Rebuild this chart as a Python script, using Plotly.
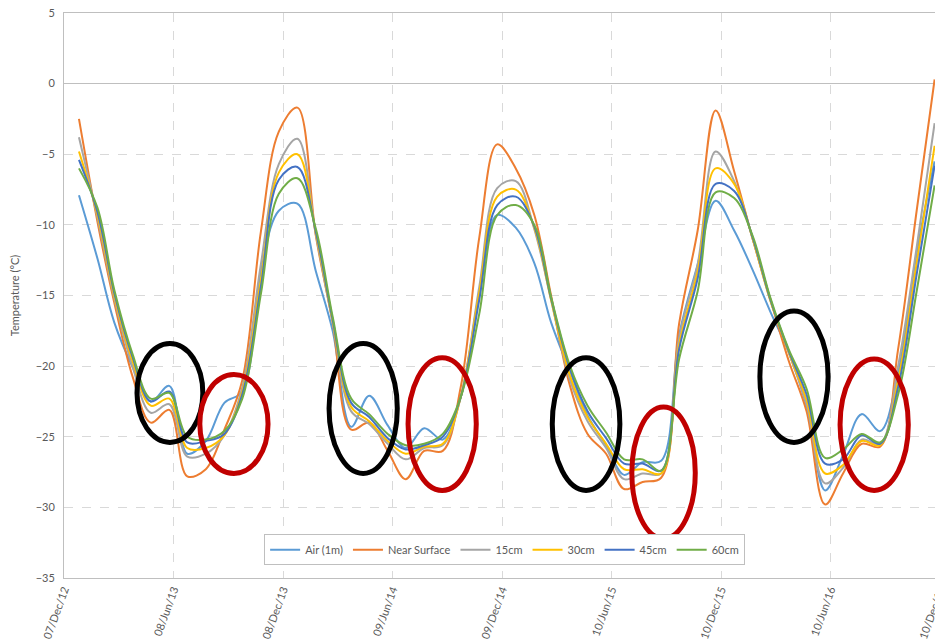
import pandas as pd
import plotly.graph_objects as go

# ---------------- data (monthly, Jan 2013 .. Dec 2016) ----------------
months = pd.date_range("2013-01-01", "2016-12-01", freq="MS").strftime("%Y-%m-%d").tolist()

air_1m = [
    -7.9, -12.4, -16.9, -20.1, -22.5, -21.4, -26.2, -25.3, -22.6, -21.8, -13.3, -9.0,
    -8.5, -13.3, -17.5, -24.3, -22.1, -24.2, -25.8, -24.4, -25.2, -22.2, -14.8, -9.3,
    -10.2, -12.7, -16.9, -20.3, -23.5, -25.6, -27.7, -26.8, -26.7, -17.8, -12.8, -8.3,
    -10.4, -13.2, -16.1, -19.0, -22.8, -28.8, -26.3, -23.4, -24.6, -20.5, -12.0, -5.5,
]
near_surface = [
    -2.5, -9.8, -15.5, -20.8, -24.0, -23.1, -27.8, -27.3, -24.5, -21.0, -10.5, -3.4,
    -1.7, -10.8, -16.9, -24.5, -24.0, -26.0, -28.0, -26.0, -26.0, -21.5, -10.9, -4.3,
    -6.0, -9.3, -15.0, -21.3, -24.8, -26.2, -28.7, -28.2, -27.9, -17.0, -10.4, -1.9,
    -6.2, -11.0, -15.2, -19.6, -23.2, -29.8, -27.6, -25.5, -25.7, -18.8, -9.0, 0.3,
]
cm15 = [
    -3.8, -9.5, -15.2, -20.1, -23.3, -22.7, -26.4, -26.2, -24.9, -21.5, -12.8, -5.7,
    -3.9, -10.7, -16.9, -23.2, -24.1, -25.5, -26.6, -25.8, -25.6, -22.2, -14.4, -7.4,
    -6.9, -10.3, -15.3, -20.9, -23.9, -25.8, -28.0, -27.6, -27.6, -18.0, -12.8, -4.8,
    -6.9, -11.0, -15.3, -19.0, -22.7, -28.3, -27.2, -25.2, -25.5, -20.0, -11.6, -2.8,
]
cm30 = [
    -4.8, -9.3, -15.0, -19.7, -22.8, -22.3, -25.8, -25.8, -24.9, -21.8, -13.9, -6.3,
    -5.0, -10.6, -16.8, -22.9, -23.9, -25.3, -26.2, -25.7, -25.5, -22.2, -14.8, -8.0,
    -7.5, -10.2, -15.3, -20.6, -23.6, -25.5, -27.3, -27.3, -27.6, -18.5, -13.3, -6.0,
    -7.1, -11.0, -15.3, -19.0, -22.4, -27.6, -27.0, -25.3, -25.6, -21.0, -12.7, -4.4,
]
cm45 = [
    -5.4, -9.1, -14.8, -19.4, -22.5, -21.8, -25.4, -25.3, -24.8, -22.0, -14.4, -6.8,
    -5.9, -10.5, -16.7, -22.6, -23.6, -25.1, -25.9, -25.6, -25.0, -22.2, -15.3, -8.6,
    -8.0, -10.1, -15.2, -20.1, -23.2, -25.1, -26.9, -26.9, -27.4, -18.8, -13.8, -7.1,
    -7.6, -10.9, -15.2, -18.9, -22.0, -26.9, -26.6, -24.9, -25.5, -21.5, -13.5, -5.8,
]
cm60 = [
    -6.0, -8.8, -14.6, -19.2, -22.3, -21.9, -25.0, -25.2, -24.6, -22.3, -14.9, -7.8,
    -6.7, -10.3, -16.5, -22.3, -23.4, -24.8, -25.6, -25.5, -24.8, -22.2, -16.3, -9.3,
    -8.6, -10.0, -15.1, -19.9, -22.8, -24.7, -26.6, -26.6, -27.4, -19.5, -14.7, -7.7,
    -8.1, -10.8, -15.1, -18.8, -21.6, -26.5, -25.9, -24.8, -25.4, -22.0, -14.7, -7.2,
]

series_names = ["Air (1m)", "Near Surface", "15cm", "30cm", "45cm", "60cm"]
series_values = [air_1m, near_surface, cm15, cm30, cm45, cm60]
series_colors = ["#5B9BD5", "#ED7D31", "#A5A5A5", "#FFC000", "#4472C4", "#70AD47"]

# x-axis ticks every 183 days from 07/Dec/12
tick_dates_ts = pd.date_range("2012-12-07", periods=9, freq="183D")
tick_dates = tick_dates_ts.strftime("%Y-%m-%d").tolist()
tick_labels = [d.strftime("%d/%b/%y") for d in tick_dates_ts]

# highlight ellipses: (start date, end date, upper temp, lower temp, colour)
ellipses = [
    ("2013-04-08", "2013-07-27", -18.4, -25.4, "#000000"),
    ("2013-07-22", "2013-11-13", -20.6, -27.6, "#C00000"),
    ("2014-02-23", "2014-06-17", -18.4, -27.6, "#000000"),
    ("2014-07-05", "2014-10-27", -19.4, -28.8, "#C00000"),
    ("2015-03-03", "2015-06-24", -19.4, -28.8, "#000000"),
    ("2015-07-14", "2015-10-28", -22.9, -32.2, "#C00000"),
    ("2016-02-13", "2016-06-06", -16.1, -25.4, "#000000"),
    ("2016-06-26", "2016-10-18", -19.5, -28.8, "#C00000"),
]

# ---------------- figure ----------------
FONT = "Lato"
fig = go.Figure()
for name, vals, col in zip(series_names, series_values, series_colors):
    fig.add_trace(go.Scatter(
        x=months, y=vals, name=name, mode="lines",
        line=dict(color=col, width=2, shape="spline", smoothing=1.0),
    ))

for x0, x1, ytop, ybot, col in ellipses:
    fig.add_shape(type="circle", xref="x", yref="y",
                  x0=x0, x1=x1, y0=ybot, y1=ytop,
                  line=dict(color=col, width=5), layer="above")

# the page has an 8px body margin, so the figure is sized to fit the window
fig.update_layout(
    width=935, height=633,
    margin=dict(l=56, r=3, t=5, b=63, autoexpand=False),
    paper_bgcolor="white", plot_bgcolor="white",
    font=dict(family=FONT, size=11, color="#595959"),
    showlegend=True,
    legend=dict(
        orientation="h", x=0.503, y=0.05, xanchor="center", yanchor="middle",
        bgcolor="white", bordercolor="#bfbfbf", borderwidth=1,
        font=dict(family=FONT, size=11, color="#595959"),
        itemwidth=30, tracegroupgap=0,
    ),
    xaxis=dict(
        type="date", automargin=False,
        range=[tick_dates[0], tick_dates[-1]],
        tickmode="array", tickvals=tick_dates, ticktext=tick_labels,
        tickangle=-70, ticklabeloverflow="allow",
        tickfont=dict(family=FONT, size=11, color="#595959"),
        showgrid=True, gridcolor="#d9d9d9", griddash="dash", gridwidth=1,
        showline=True, linecolor="#bfbfbf", linewidth=1, mirror=True,
        ticks="", zeroline=False,
    ),
    yaxis=dict(
        automargin=False,
        range=[-35, 5], dtick=5, tick0=0,
        tickfont=dict(family=FONT, size=11, color="#595959"),
        ticklabelstandoff=6, ticklabeloverflow="allow",
        showgrid=True, gridcolor="#d9d9d9", griddash="dash", gridwidth=1,
        zeroline=True, zerolinecolor="#bfbfbf", zerolinewidth=1,
        showline=True, linecolor="#bfbfbf", linewidth=1,
        ticks="",
        title=dict(text="Temperature (°C)", font=dict(family=FONT, size=11, color="#595959"), standoff=24),
    ),
)

fig.write_html("out.html")
